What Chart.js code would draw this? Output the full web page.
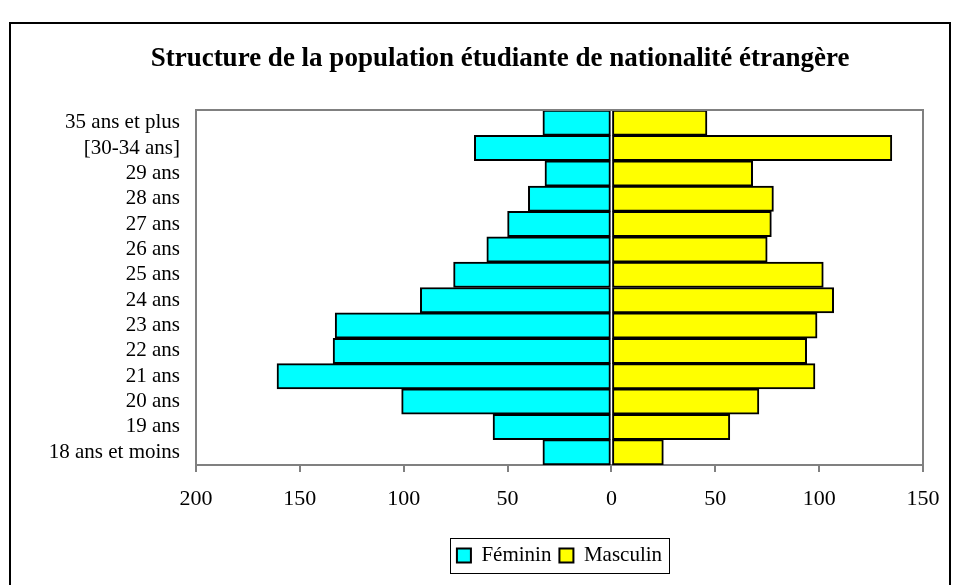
<!DOCTYPE html>
<html>
<head>
<meta charset="utf-8">
<script src="https://cdn.jsdelivr.net/npm/chart.js@4"></script>
<style>
  html, body { margin: 0; padding: 0; background: #fff; }
  #wrap { width: 960px; height: 585px; }
</style>
</head>
<body>
<div id="wrap"><canvas id="pyramid" width="960" height="585"></canvas></div>
<script>
// age groups, bottom to top
const ageLabels = ['18 ans et moins', '19 ans', '20 ans', '21 ans', '22 ans', '23 ans', '24 ans',
    '25 ans', '26 ans', '27 ans', '28 ans', '29 ans', '[30-34 ans]', '35 ans et plus'];
const feminin = [33, 57, 101, 161, 134, 133, 92, 76, 60, 50, 40, 32, 66, 33];
const masculin = [25, 57, 71, 98, 94, 99, 107, 102, 75, 77, 78, 68, 135, 46];
const xTicks = [-200, -150, -100, -50, 0, 50, 100, 150];

const serif = '"Liberation Serif", "Times New Roman", serif';

// frame around the whole chart, plot box, box around legend
const framePlugin = {
    id: 'frames',
    afterLayout: function (chart) {
        // the original title sits centred on x=500, not on the plot
        const t = chart.titleBlock;
        if (!t) return;
        const d = 500 - (t.left + t.right) / 2;
        t.left += d;
        t.right += d;
    },
    afterDraw: function (chart) {
        const ctx = chart.ctx;
        const a = chart.chartArea;
        ctx.save();
        ctx.strokeStyle = '#808080';
        ctx.lineWidth = 2;
        ctx.beginPath();
        ctx.moveTo(a.left, a.bottom);
        ctx.lineTo(a.left, a.top);
        ctx.lineTo(a.right, a.top);
        ctx.lineTo(a.right, a.bottom);
        ctx.stroke();

        ctx.strokeStyle = '#000';
        ctx.lineWidth = 2;
        ctx.strokeRect(10, 23, 940, 620);

        const boxes = chart.legend.legendHitBoxes;
        if (boxes && boxes.length) {
            const x0 = Math.min.apply(null, boxes.map(b => b.left)) - 7;
            const x1 = Math.max.apply(null, boxes.map(b => b.left + b.width)) + 7;
            const cy = boxes[0].top + boxes[0].height / 2;
            ctx.lineWidth = 1;
            ctx.strokeRect(Math.round(x0) + 0.5, Math.round(cy - 17.5) + 0.5, Math.round(x1 - x0), 35);
        }
        ctx.restore();
    }
};

new Chart(document.getElementById('pyramid'), {
    type: 'bar',
    data: {
        labels: ageLabels,
        datasets: [
            {
                label: 'Féminin',
                data: feminin.map(v => -v),
                backgroundColor: '#00ffff',
                borderColor: '#000',
                borderWidth: 2,
                borderSkipped: false
            },
            {
                label: 'Masculin',
                data: masculin,
                backgroundColor: '#ffff00',
                borderColor: '#000',
                borderWidth: 2,
                borderSkipped: false
            }
        ]
    },
    options: {
        indexAxis: 'y',
        responsive: false,
        animation: false,
        barPercentage: 1,
        categoryPercentage: 1,
        layout: { padding: { left: 10, right: 37, top: 0, bottom: 9 } },
        scales: {
            x: {
                stacked: true,
                min: -200,
                max: 150,
                afterBuildTicks: function (scale) {
                    scale.ticks = xTicks.map(v => ({ value: v }));
                },
                afterFit: function (scale) { scale.height = 72; },
                grid: { drawOnChartArea: false, color: '#808080', tickLength: 7, lineWidth: 2 },
                border: { display: true, color: '#808080', width: 2 },
                ticks: {
                    color: '#000',
                    padding: 14,
                    maxRotation: 0,
                    font: { family: serif, size: 22 },
                    callback: function (v) { return Math.abs(v); }
                }
            },
            y: {
                stacked: true,
                reverse: true,
                afterFit: function (scale) { scale.width = 186; },
                grid: { drawOnChartArea: false, drawTicks: false },
                border: { display: true, color: '#808080', width: 2 },
                ticks: {
                    color: '#000',
                    padding: 16,
                    autoSkip: false,
                    font: { family: serif, size: 21 }
                }
            }
        },
        plugins: {
            title: {
                display: true,
                text: 'Structure de la population étudiante de nationalité étrangère',
                color: '#000',
                font: { family: serif, size: 27, weight: 'bold' },
                padding: { top: 43, bottom: 34.6 }
            },
            legend: {
                position: 'bottom',
                fullSize: false,
                labels: {
                    color: '#000',
                    boxWidth: 14,
                    boxHeight: 14,
                    padding: 8,
                    font: { family: serif, size: 21 }
                }
            },
            tooltip: { enabled: true }
        }
    },
    plugins: [framePlugin]
});
</script>
</body>
</html>
